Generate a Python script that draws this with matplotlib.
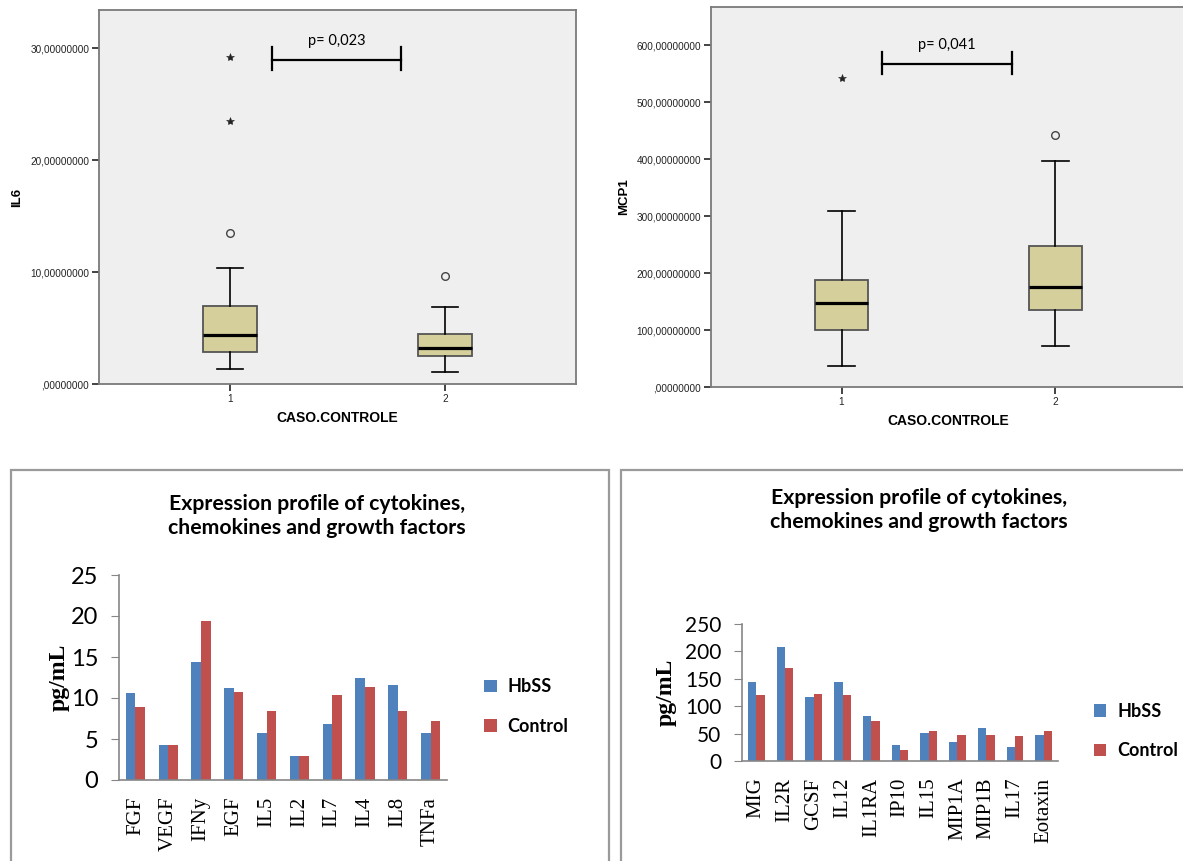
import matplotlib
matplotlib.use('Agg')
import matplotlib.pyplot as plt
from matplotlib.patches import Rectangle
from matplotlib.ticker import FuncFormatter
import numpy as np

# IL6 por grupo (1 = caso, 2 = controle)
il6_stats = [
    dict(med=4.40, q1=2.85, q3=6.96, whislo=1.31, whishi=10.38, fliers=[]),
    dict(med=3.18, q1=2.47, q3=4.49, whislo=1.07, whishi=6.90, fliers=[]),
]
il6_outliers = [[13.5], [9.66]]
il6_extremes = [[23.46, 29.17], []]

# MCP1 por grupo
mcp1_stats = [
    dict(med=146.8, q1=100.0, q3=188.5, whislo=36.4, whishi=309.5, fliers=[]),
    dict(med=175.0, q1=135.6, q3=247.8, whislo=71.6, whishi=397.5, fliers=[]),
]
mcp1_outliers = [[], [442.0]]
mcp1_extremes = [[542.6], []]

grupos = [1, 2]

# perfil de expressao (pg/mL)
cats_a = ['FGF', 'VEGF', 'IFNy', 'EGF', 'IL5', 'IL2', 'IL7', 'IL4', 'IL8', 'TNFa']
hbss_a = [10.57, 4.23, 14.35, 11.18, 5.69, 2.97, 6.79, 12.44, 11.59, 5.69]
ctrl_a = [8.86, 4.23, 19.43, 10.77, 8.46, 2.97, 10.33, 11.38, 8.46, 7.15]

cats_b = ['MIG', 'IL2R', 'GCSF', 'IL12', 'IL1RA', 'IP10', 'IL15', 'MIP1A', 'MIP1B', 'IL17', 'Eotaxin']
hbss_b = [144.7, 207.6, 116.8, 144.7, 82.3, 29.1, 50.8, 35.1, 60.5, 26.0, 47.8]
ctrl_b = [119.9, 170.1, 122.9, 119.9, 72.6, 19.4, 53.9, 47.8, 47.8, 44.8, 53.9]

W, H = 1183, 861
fig = plt.figure(figsize=(W / 100, H / 100), dpi=100)


def px_axes(left, top, right, bottom):
    return fig.add_axes([left / W, 1 - bottom / H, (right - left) / W, (bottom - top) / H])


def spss_fmt(v, pos):
    s = f'{v:.8f}'.replace('.', ',')
    if s.startswith('0,'):
        s = s[1:]
    return s


def caixa(ax, stats, outl, extr, ymax, yticks, ylabel, pbar, ptext):
    ax.set_facecolor('#efefef')
    ax.bxp(stats, positions=grupos, widths=0.25, capwidths=0.125, patch_artist=True,
           showfliers=False,
           boxprops=dict(facecolor='#d4cf9b', edgecolor='#555555', linewidth=1.3),
           medianprops=dict(color='black', linewidth=2.3),
           whiskerprops=dict(color='black', linewidth=1.2),
           capprops=dict(color='black', linewidth=1.2))
    for g, vals in zip(grupos, outl):
        ax.plot([g] * len(vals), vals, 'o', mfc='none', mec='#444444', ms=5.5, mew=1.0)
    for g, vals in zip(grupos, extr):
        ax.plot([g] * len(vals), vals, '*', color='#222222', ms=6, mew=0.4)
    ax.set_xlim(0.39, 2.61)
    ax.set_ylim(0, ymax)
    ax.set_yticks(yticks)
    ax.yaxis.set_major_formatter(FuncFormatter(spss_fmt))
    ax.set_xticks(grupos)
    ax.set_xticklabels(['1', '2'])
    ax.tick_params(labelsize=7.2, colors='#222222', length=5, width=1.2, pad=2)
    for lab in ax.get_xticklabels() + ax.get_yticklabels():
        lab.set_family('Liberation Sans')
    for s in ax.spines.values():
        s.set_color('#7a7a7a')
        s.set_linewidth(1.3)
    ax.set_ylabel(ylabel, fontsize=9.5, fontweight='bold', family='Liberation Sans', labelpad=5)
    ax.set_xlabel('CASO.CONTROLE', fontsize=10, fontweight='bold', family='Liberation Sans',
                  labelpad=5)
    x1, x2, yb, y0, y1, yt = pbar
    ax.plot([x1, x2], [yb, yb], color='black', lw=1.6)
    ax.plot([x1, x1], [y0, y1], color='black', lw=1.6)
    ax.plot([x2, x2], [y0, y1], color='black', lw=1.6)
    ax.text((x1 + x2) / 2, yt, ptext, ha='center', va='center', fontsize=10.5, family='Lato')


ax1 = px_axes(99, 10, 576, 384)
caixa(ax1, il6_stats, il6_outliers, il6_extremes, 33.4, [0, 10, 20, 30], 'IL6',
      (1.193, 1.796, 28.96, 28.07, 30.1, 30.6), 'p= 0,023')

ax2 = px_axes(711, 7, 1186, 387)
caixa(ax2, mcp1_stats, mcp1_outliers, mcp1_extremes, 667, range(0, 601, 100), 'MCP1',
      (1.19, 1.797, 566.6, 549.6, 588, 601), 'p= 0,041')

# molduras dos graficos de barras
fig.add_artist(Rectangle((11 / W, -0.01), (609 - 11) / W, 1 - 470 / H + 0.01,
                         transform=fig.transFigure, fill=False, ec='#9a9a9a', lw=1.6))
fig.add_artist(Rectangle((621 / W, -0.01), 0.5, 1 - 470 / H + 0.01,
                         transform=fig.transFigure, fill=False, ec='#9a9a9a', lw=1.6))


def barras(ax, cats, hb, ct, ymax, step, tsize, legy, ylpad):
    x = np.arange(len(cats))
    ax.bar(x - 0.145, hb, 0.29, color='#4f81bd', label='HbSS')
    ax.bar(x + 0.145, ct, 0.29, color='#c0504d', label='Control')
    ax.set_xlim(-0.5, len(cats) - 0.5)
    ax.set_ylim(0, ymax)
    ax.set_yticks(np.arange(0, ymax + 1, step))
    ax.set_xticks(x)
    ax.set_xticklabels(cats, rotation=90, family='Liberation Serif', fontsize=15)
    for lab in ax.get_yticklabels():
        lab.set_family('Lato')
        lab.set_fontsize(tsize)
    ax.tick_params(axis='x', length=0, pad=12)
    ax.tick_params(axis='y', direction='out', length=6, color='#868686', pad=9)
    for k in ['top', 'right']:
        ax.spines[k].set_visible(False)
    for k in ['left', 'bottom']:
        ax.spines[k].set_color('#868686')
        ax.spines[k].set_linewidth(1.2)
    ax.set_ylabel('pg/mL', family='Liberation Serif', fontweight='bold', fontsize=17,
                  labelpad=ylpad)
    ax.legend(loc='center left', bbox_to_anchor=(1.113, legy), frameon=False, borderpad=0,
              borderaxespad=0, handlelength=0.7, handleheight=0.7, handletextpad=0.6,
              labelspacing=1.25, prop=dict(family='Lato', weight='bold', size=13))


ax3 = px_axes(119, 575, 447, 780)
barras(ax3, cats_a, hbss_a, ctrl_a, 25, 5, 17, 0.358, 1)

ax4 = px_axes(742, 624, 1058, 761)
barras(ax4, cats_b, hbss_b, ctrl_b, 250, 50, 15, 0.219, 6)

titulo = 'Expression profile of cytokines,\nchemokines and growth factors'
fig.text(317 / W, 1 - 516 / H, titulo, ha='center', va='center', family='Lato',
         fontweight='bold', fontsize=15.3, linespacing=1.25)
fig.text(919 / W, 1 - 510 / H, titulo, ha='center', va='center', family='Lato',
         fontweight='bold', fontsize=15.3, linespacing=1.25)

fig.savefig('out.png', dpi=100)
